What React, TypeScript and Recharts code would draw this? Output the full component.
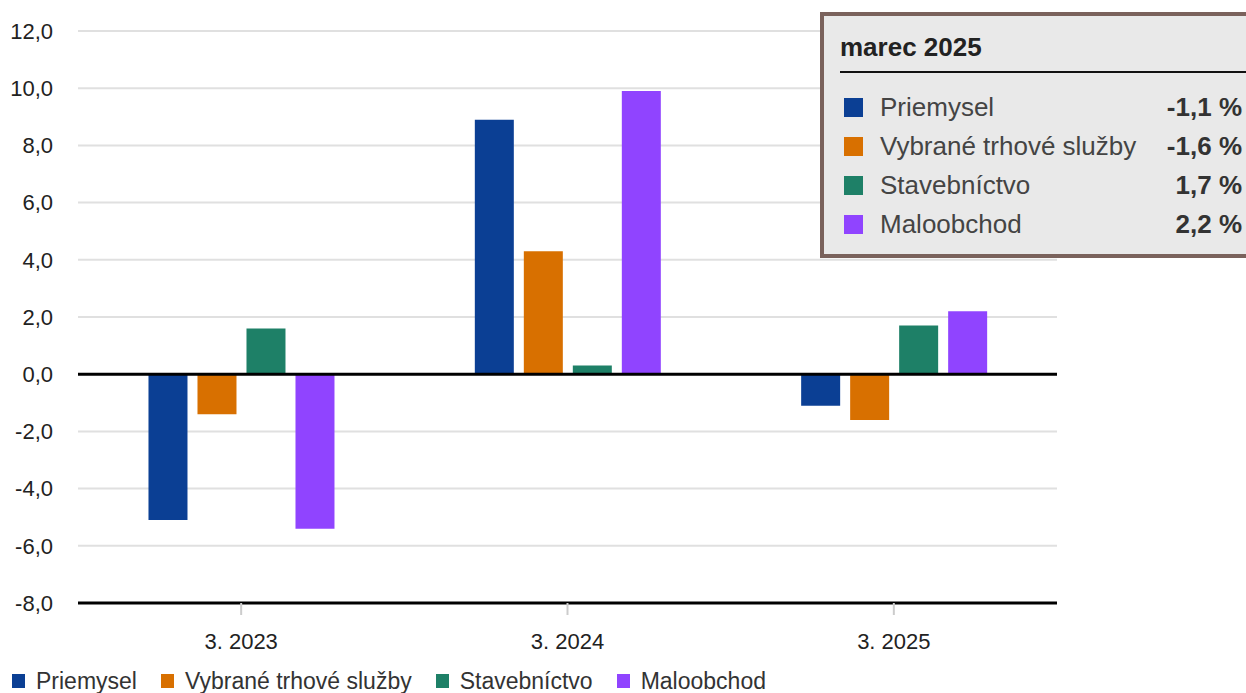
import {
  Bar,
  BarChart,
  CartesianGrid,
  Legend,
  ReferenceLine,
  Tooltip,
  XAxis,
  YAxis,
} from "recharts";

const categories = ["3. 2023", "3. 2024", "3. 2025"];
const tooltipTitles = ["marec 2023", "marec 2024", "marec 2025"];
const priemysel = [-5.1, 8.9, -1.1];
const sluzby = [-1.4, 4.3, -1.6];
const stavebnictvo = [1.6, 0.3, 1.7];
const maloobchod = [-5.4, 9.9, 2.2];
const yTicks = [-8, -6, -4, -2, 0, 2, 4, 6, 8, 10, 12];

const series = [
  { key: "Priemysel", values: priemysel, color: "#0b3f94" },
  { key: "Vybrané trhové služby", values: sluzby, color: "#d87000" },
  { key: "Stavebníctvo", values: stavebnictvo, color: "#1e8067" },
  { key: "Maloobchod", values: maloobchod, color: "#9044ff" },
];

const data = categories.map((name, i) => {
  const row: Record<string, string | number> = { name, title: tooltipTitles[i] };
  series.forEach((s) => {
    row[s.key] = s.values[i];
  });
  return row;
});

const fmt = (v: number) => v.toFixed(1).replace(".", ",");

const InfoBox = ({ payload }: any) => {
  if (!payload || !payload.length) return null;
  const title = payload[0].payload.title;
  return (
    <div
      style={{
        width: 436,
        height: 246,
        boxSizing: "border-box",
        border: "4px solid #7a625c",
        background: "#e9e9e9",
        paddingLeft: 16,
        paddingRight: 10,
        fontFamily: "'Liberation Sans', Arial, sans-serif",
      }}
    >
      <div
        style={{
          height: 35,
          paddingTop: 20,
          lineHeight: "22px",
          fontSize: 26,
          fontWeight: "bold",
          color: "#222",
          borderBottom: "2px solid #111",
          marginRight: -10,
        }}
      >
        {title}
      </div>
      <div style={{ paddingTop: 15 }}>
        {payload.map((p: any) => (
          <div
            key={p.name}
            style={{ height: 39, display: "flex", alignItems: "center" }}
          >
            <span
              style={{
                width: 19,
                height: 19,
                background: p.color,
                marginLeft: 4,
                marginRight: 17,
              }}
            />
            <span style={{ fontSize: 26, color: "#444", flex: 1 }}>{p.name}</span>
            <span style={{ fontSize: 26, fontWeight: "bold", color: "#333" }}>
              {fmt(p.value)} %
            </span>
          </div>
        ))}
      </div>
    </div>
  );
};

// legend drawn in series order (recharts would sort it by name)
const BottomLegend = () => (
  <div
    style={{
      display: "flex",
      alignItems: "center",
      height: 32,
      paddingLeft: 12,
      paddingTop: 8,
      boxSizing: "border-box",
    }}
  >
    {series.map((s) => (
      <div
        key={s.key}
        style={{ display: "flex", alignItems: "center", marginRight: 24 }}
      >
        <span
          style={{ width: 13, height: 14, background: s.color, marginRight: 11 }}
        />
        <span style={{ fontSize: 23, color: "#333", lineHeight: "26px" }}>
          {s.key}
        </span>
      </div>
    ))}
  </div>
);

const App = () => {
  return (
    <div
      style={{
        position: "absolute",
        left: 0,
        top: 0,
        width: 1246,
        height: 693,
        overflow: "hidden",
        background: "#fff",
        fontFamily: "'Liberation Sans', Arial, sans-serif",
      }}
    >
      <BarChart
        width={1246}
        height={693}
        data={data}
        margin={{ top: 31, right: 189, left: 0, bottom: 0 }}
        barCategoryGap="21.6%"
        barGap={10}
      >
        <CartesianGrid vertical={false} stroke="#e0e0e0" strokeWidth={2} />
        <XAxis
          dataKey="name"
          height={58}
          axisLine={{ stroke: "#000", strokeWidth: 3 }}
          tickLine={{ stroke: "#ccc", strokeWidth: 2 }}
          tickSize={12}
          tickMargin={18}
          tick={{ fontSize: 22, fill: "#222" }}
        />
        <YAxis
          width={78}
          domain={[-8, 12]}
          ticks={yTicks}
          interval={0}
          axisLine={false}
          tickLine={false}
          tickSize={0}
          tickMargin={25}
          tickFormatter={fmt}
          tick={{ fontSize: 22, fill: "#222" }}
        />
        <Tooltip
          active
          defaultIndex={2}
          cursor={false}
          isAnimationActive={false}
          position={{ x: 820, y: 12 }}
          content={<InfoBox />}
          wrapperStyle={{ outline: "none", zIndex: 5 }}
        />
        <Legend
          verticalAlign="bottom"
          align="left"
          height={32}
          wrapperStyle={{ left: 0, bottom: 0 }}
          content={<BottomLegend />}
        />
        {series.map((s) => (
          <Bar
            key={s.key}
            dataKey={s.key}
            fill={s.color}
            isAnimationActive={false}
          />
        ))}
        <ReferenceLine y={0} stroke="#000" strokeWidth={3} />
      </BarChart>
    </div>
  );
};

export default App;
